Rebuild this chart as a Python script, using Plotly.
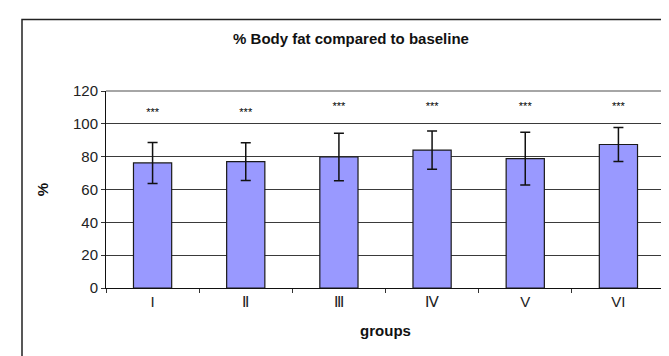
import plotly.graph_objects as go

groups = ["I", "Ⅱ", "Ⅲ", "Ⅳ", "V", "VI"]
body_fat_pct = [76.2, 77.0, 79.8, 84.0, 78.8, 87.4]
error_sd = [12.5, 11.5, 14.5, 11.6, 16.0, 10.4]
sig_labels = ["***", "***", "***", "***", "***", "***"]
sig_level = [106.5, 106.5, 110.3, 110.3, 110.3, 110.3]

FONT = "Liberation Sans, Arial, sans-serif"

fig = go.Figure()
fig.add_trace(go.Bar(
    x=groups, y=body_fat_pct,
    marker=dict(color="#9999FF", line=dict(color="#1a1a1a", width=1.2)),
    error_y=dict(type="data", array=error_sd, visible=True,
                 color="#111111", thickness=1.5, width=5),
    width=0.41,
    showlegend=False,
))
fig.add_trace(go.Scatter(
    x=groups, y=sig_level, mode="text", text=sig_labels,
    textfont=dict(size=11, color="#000000", family=FONT),
    showlegend=False, hoverinfo="skip",
))

fig.update_layout(
    width=669, height=356,
    margin=dict(l=98, r=12, t=83, b=76),
    paper_bgcolor="white", plot_bgcolor="white",
    font=dict(family=FONT, color="#111111"),
    title=dict(text="<b>% Body fat compared to baseline</b>",
               font=dict(size=15, family=FONT, color="#111111"),
               x=343/669, xanchor="center", y=1-31/356, yanchor="middle"),
    xaxis=dict(
        showline=True, linecolor="#111111", linewidth=1,
        ticks="outside", tickson="boundaries", ticklen=4, tickcolor="#333333",
        tickfont=dict(size=15, family=FONT, color="#222222"),
        title=dict(text="<b>groups</b>", font=dict(size=15, family=FONT, color="#111111"),
                   standoff=16),
        showgrid=False,
    ),
    yaxis=dict(
        range=[0, 120], dtick=20,
        showline=True, linecolor="#111111", linewidth=1,
        ticks="outside", ticklen=4, tickcolor="#333333",
        tickfont=dict(size=15, family=FONT, color="#222222"),
        showgrid=True, gridcolor="#3a3a3a", gridwidth=1,
        zeroline=False,
        title=dict(text="<b>%</b>", font=dict(size=15, family=FONT, color="#111111"),
                   standoff=20),
    ),
    shapes=[
        dict(type="line", xref="paper", yref="paper", x0=1, x1=1, y0=0, y1=1,
             line=dict(color="#888888", width=1.5)),
        dict(type="line", xref="paper", yref="paper", x0=0, x1=1, y0=1, y1=1,
             line=dict(color="#888888", width=1.5)),
        dict(type="rect", xref="paper", yref="paper",
             x0=(14-98)/559, x1=1.2, y0=-0.5, y1=(280-11)/197.3,
             line=dict(color="#222222", width=1.5), layer="below"),
    ],
)

fig.write_html("out.html")
